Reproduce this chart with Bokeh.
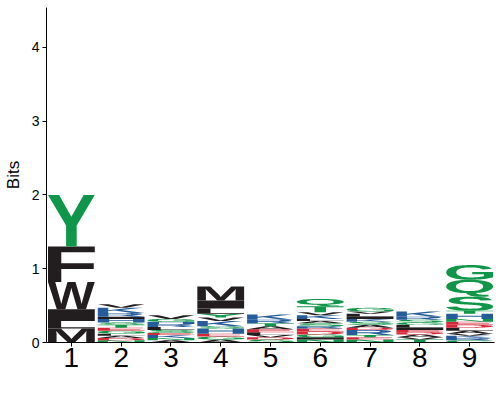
import os
import glob
import struct
import numpy as np
from bokeh.plotting import figure
from bokeh.models import Range1d, FixedTicker, ColumnDataSource
from bokeh.embed import file_html
from bokeh.resources import INLINE

# ---------------- data (letters listed bottom -> top, heights in bits) -------------
positions = [1, 2, 3, 4, 5, 6, 7, 8, 9]
x_tick_labels = ["1", "2", "3", "4", "5", "6", "7", "8", "9"]
y_ticks = [0, 1, 2, 3, 4]

letters_1 = ["M", "L", "I", "W", "F", "Y"]
bits_1 = [0.19, 0.10, 0.16, 0.37, 0.48, 0.70]

letters_2 = ["N", "D", "A", "L", "G", "E", "T", "S", "H", "I", "R", "K", "V"]
bits_2 = [0.03, 0.03, 0.03, 0.03, 0.04, 0.04, 0.04, 0.03, 0.05, 0.03, 0.05, 0.07, 0.05]

letters_3 = ["A", "N", "K", "E", "S", "L", "R", "H", "G", "V"]
bits_3 = [0.03, 0.03, 0.04, 0.03, 0.04, 0.04, 0.04, 0.03, 0.04, 0.05]

letters_4 = ["A", "G", "E", "H", "S", "K", "V", "Y", "L", "I", "M"]
bits_4 = [0.04, 0.04, 0.04, 0.07, 0.03, 0.07, 0.05, 0.05, 0.07, 0.11, 0.19]

letters_5 = ["S", "D", "V", "L", "E", "A", "T", "R", "K"]
bits_5 = [0.04, 0.03, 0.03, 0.04, 0.04, 0.04, 0.04, 0.05, 0.07]

letters_6 = ["N", "I", "G", "D", "E", "R", "S", "A", "L", "K", "V", "T", "Q"]
bits_6 = [0.04, 0.03, 0.04, 0.04, 0.04, 0.03, 0.04, 0.03, 0.03, 0.05, 0.04, 0.08, 0.10]

letters_7 = ["N", "E", "T", "R", "D", "A", "S", "K", "I", "L", "V", "G"]
bits_7 = [0.04, 0.03, 0.03, 0.07, 0.03, 0.04, 0.04, 0.04, 0.03, 0.04, 0.03, 0.05]

letters_8 = ["T", "V", "A", "D", "E", "I", "L", "G", "S", "R", "K"]
bits_8 = [0.04, 0.03, 0.04, 0.03, 0.03, 0.03, 0.04, 0.03, 0.04, 0.04, 0.07]

letters_9 = ["C", "R", "K", "V", "A", "L", "D", "E", "N", "H", "T", "S", "Q", "G"]
bits_9 = [0.03, 0.03, 0.03, 0.03, 0.04, 0.04, 0.04, 0.04, 0.04, 0.07, 0.04, 0.19, 0.23, 0.20]

stack_letters = [letters_1, letters_2, letters_3, letters_4, letters_5,
                 letters_6, letters_7, letters_8, letters_9]
stack_bits = [bits_1, bits_2, bits_3, bits_4, bits_5, bits_6, bits_7, bits_8, bits_9]

# colour scheme (by residue chemistry)
polar_letters = "GSTYCNQ"
basic_letters = "KRH"
acidic_letters = "DE"
hydrophobic_letters = "AVLIPWFM"
polar_color = "#109648"
basic_color = "#255C99"
acidic_color = "#D62839"
hydrophobic_color = "#221E1F"


def letter_color(ch):
    if ch in polar_letters:
        return polar_color
    if ch in basic_letters:
        return basic_color
    if ch in acidic_letters:
        return acidic_color
    return hydrophobic_color


# ---------------- glyph outlines from an installed bold sans font -----------------
def find_font_file():
    names = ["LiberationSans-Bold.ttf", "Arimo-Bold.ttf", "DejaVuSans-Bold.ttf",
             "OpenSans-Bold.ttf", "Lato-Bold.ttf", "Roboto-Bold.ttf"]
    dirs = ["/usr/share/fonts", "/usr/local/share/fonts",
            os.path.expanduser("~/.fonts"), os.path.expanduser("~/.local/share/fonts")]
    for n in names:
        for d in dirs:
            if os.path.isdir(d):
                hits = glob.glob(os.path.join(d, "**", n), recursive=True)
                if hits:
                    return hits[0]
    return None


class TTF:
    def __init__(self, path):
        d = open(path, "rb").read()
        self.d = d
        off = 0
        if d[:4] == b"ttcf":
            off = struct.unpack(">I", d[12:16])[0]
        n = struct.unpack(">H", d[off + 4:off + 6])[0]
        self.t = {}
        for i in range(n):
            r = off + 12 + 16 * i
            tag = d[r:r + 4].decode("latin1")
            toff = struct.unpack(">I", d[r + 8:r + 12])[0]
            self.t[tag] = toff
        head = self.t["head"]
        loc_fmt = struct.unpack(">h", d[head + 50:head + 52])[0]
        mp = self.t["maxp"]
        ng = struct.unpack(">H", d[mp + 4:mp + 6])[0]
        lo = self.t["loca"]
        if loc_fmt == 0:
            self.loca = [v * 2 for v in struct.unpack(">%dH" % (ng + 1), d[lo:lo + 2 * (ng + 1)])]
        else:
            self.loca = list(struct.unpack(">%dI" % (ng + 1), d[lo:lo + 4 * (ng + 1)]))
        c = self.t["cmap"]
        ns = struct.unpack(">H", d[c + 2:c + 4])[0]
        self.cst = None
        for i in range(ns):
            pid, eid, so = struct.unpack(">HHI", d[c + 4 + 8 * i:c + 12 + 8 * i])
            st = c + so
            if struct.unpack(">H", d[st:st + 2])[0] == 4:
                self.cst = st
                if pid == 3:
                    break

    def gid(self, ch):
        d = self.d
        st = self.cst
        code = ord(ch)
        seg2 = struct.unpack(">H", d[st + 6:st + 8])[0]
        seg = seg2 // 2
        ends = struct.unpack(">%dH" % seg, d[st + 14:st + 14 + seg2])
        s0 = st + 16 + seg2
        starts = struct.unpack(">%dH" % seg, d[s0:s0 + seg2])
        deltas = struct.unpack(">%dh" % seg, d[s0 + seg2:s0 + 2 * seg2])
        ro = s0 + 2 * seg2
        roffs = struct.unpack(">%dH" % seg, d[ro:ro + seg2])
        for k in range(seg):
            if ends[k] >= code:
                if starts[k] > code:
                    return 0
                if roffs[k] == 0:
                    return (code + deltas[k]) & 0xFFFF
                a = ro + 2 * k + roffs[k] + 2 * (code - starts[k])
                g = struct.unpack(">H", d[a:a + 2])[0]
                return (g + deltas[k]) & 0xFFFF if g else 0
        return 0

    def contours(self, g):
        d = self.d
        base = self.t["glyf"]
        start = base + self.loca[g]
        end = base + self.loca[g + 1]
        if end <= start:
            return []
        nc = struct.unpack(">h", d[start:start + 2])[0]
        if nc < 0:
            p = start + 10
            out = []
            while True:
                fl, gi = struct.unpack(">HH", d[p:p + 4])
                p += 4
                if fl & 1:
                    a1, a2 = struct.unpack(">hh", d[p:p + 4])
                    p += 4
                else:
                    a1, a2 = struct.unpack(">bb", d[p:p + 2])
                    p += 2
                if fl & 8:
                    p += 2
                elif fl & 0x40:
                    p += 4
                elif fl & 0x80:
                    p += 8
                dx, dy = (a1, a2) if fl & 2 else (0, 0)
                for cc in self.contours(gi):
                    out.append([(x + dx, y + dy, on) for x, y, on in cc])
                if not fl & 0x20:
                    break
            return out
        p = start + 10
        end_pts = struct.unpack(">%dH" % nc, d[p:p + 2 * nc])
        p += 2 * nc
        ilen = struct.unpack(">H", d[p:p + 2])[0]
        p += 2 + ilen
        npts = end_pts[-1] + 1
        flags = []
        while len(flags) < npts:
            f = d[p]
            p += 1
            flags.append(f)
            if f & 8:
                r = d[p]
                p += 1
                flags.extend([f] * r)
        flags = flags[:npts]
        xs = []
        v = 0
        for f in flags:
            if f & 2:
                dd = d[p]
                p += 1
                v += dd if f & 16 else -dd
            elif not f & 16:
                v += struct.unpack(">h", d[p:p + 2])[0]
                p += 2
            xs.append(v)
        ys = []
        v = 0
        for f in flags:
            if f & 4:
                dd = d[p]
                p += 1
                v += dd if f & 32 else -dd
            elif not f & 32:
                v += struct.unpack(">h", d[p:p + 2])[0]
                p += 2
            ys.append(v)
        out = []
        s = 0
        for e in end_pts:
            out.append([(xs[i], ys[i], flags[i] & 1) for i in range(s, e + 1)])
            s = e + 1
        return out


def flatten(contour, steps=8):
    n = len(contour)
    exp = []
    for i in range(n):
        x, y, on = contour[i]
        nx, ny, non = contour[(i + 1) % n]
        exp.append((float(x), float(y), on))
        if not on and not non:
            exp.append(((x + nx) / 2.0, (y + ny) / 2.0, 1))
    k = next(i for i, q in enumerate(exp) if q[2])
    exp = exp[k:] + exp[:k]
    m = len(exp)
    out = [(exp[0][0], exp[0][1])]
    i = 1
    while i <= m:
        q = exp[i % m]
        if q[2]:
            out.append((q[0], q[1]))
            i += 1
        else:
            p0 = out[-1]
            p2 = exp[(i + 1) % m]
            for t in np.linspace(0, 1, steps + 1)[1:]:
                out.append(((1 - t) ** 2 * p0[0] + 2 * (1 - t) * t * q[0] + t ** 2 * p2[0],
                            (1 - t) ** 2 * p0[1] + 2 * (1 - t) * t * q[1] + t ** 2 * p2[1]))
            i += 2
    return np.array(out)


def signed_area(r):
    x, y = r[:, 0], r[:, 1]
    return 0.5 * np.sum(x * np.roll(y, -1) - np.roll(x, -1) * y)


def point_in(px, py, r):
    x, y = r[:, 0], r[:, 1]
    x2, y2 = np.roll(x, -1), np.roll(y, -1)
    cond = ((y > py) != (y2 > py))
    with np.errstate(divide="ignore", invalid="ignore"):
        xi = (x2 - x) * (py - y) / (y2 - y) + x
    return np.count_nonzero(cond & (px < xi)) % 2 == 1


def build_shapes(chars):
    box = [[np.array([[0, 0], [1, 0], [1, 1], [0, 1]], dtype=float)]]
    shapes = {c: box for c in chars}
    path = find_font_file()
    if path is None:
        return shapes
    try:
        font = TTF(path)
        for c in chars:
            rings = [flatten(cc) for cc in font.contours(font.gid(c)) if len(cc) > 2]
            if not rings:
                continue
            areas = [signed_area(r) for r in rings]
            big = max(range(len(rings)), key=lambda i: abs(areas[i]))
            sgn = np.sign(areas[big])
            exts = [i for i in range(len(rings)) if np.sign(areas[i]) == sgn]
            holes = [i for i in range(len(rings)) if np.sign(areas[i]) != sgn]
            polys = {i: [rings[i]] for i in exts}
            for h in holes:
                hx, hy = rings[h][0]
                for e in exts:
                    if point_in(hx, hy, rings[e]):
                        polys[e].append(rings[h])
                        break
            allp = np.vstack(rings)
            mn = allp.min(axis=0)
            span = allp.max(axis=0) - mn
            span[span == 0] = 1
            shapes[c] = [[(r - mn) / span for r in polys[e]] for e in exts]
    except Exception:
        pass
    return shapes


all_chars = sorted(set(ch for st in stack_letters for ch in st))
shapes = build_shapes(all_chars)

letter_width = 0.94
xs_all, ys_all, cols = [], [], []
for pos, lets, bts in zip(positions, stack_letters, stack_bits):
    bottom = 0.0
    for ch, h in zip(lets, bts):
        mpx, mpy = [], []
        for poly in shapes[ch]:
            mpx.append([list(pos - letter_width / 2 + letter_width * r[:, 0]) for r in poly])
            mpy.append([list(bottom + h * r[:, 1]) for r in poly])
        xs_all.append(mpx)
        ys_all.append(mpy)
        cols.append(letter_color(ch))
        bottom += h

src = ColumnDataSource(dict(xs=xs_all, ys=ys_all, color=cols))

# ---------------- figure -----------------
p = figure(width=500, height=400, x_range=Range1d(0.5, 9.5), y_range=Range1d(0, 4.54),
           output_backend="svg", toolbar_location=None,
           min_border_left=45, min_border_right=6, min_border_top=7, min_border_bottom=58)
p.multi_polygons(xs="xs", ys="ys", fill_color="color", line_color=None, source=src)

p.xgrid.visible = False
p.ygrid.visible = False
p.outline_line_color = None
p.background_fill_color = "white"
p.border_fill_color = "white"

p.xaxis.ticker = FixedTicker(ticks=positions)
p.xaxis.major_label_overrides = {pos: lab for pos, lab in zip(positions, x_tick_labels)}
p.yaxis.ticker = FixedTicker(ticks=y_ticks)

for ax in (p.xaxis[0], p.yaxis[0]):
    ax.axis_line_color = "black"
    ax.axis_line_width = 1
    ax.major_tick_line_color = "black"
    ax.major_tick_in = 0
    ax.major_tick_out = 4
    ax.minor_tick_line_color = None
    ax.major_label_text_font = "Liberation Sans"
    ax.major_label_text_color = "black"

p.xaxis.major_label_text_font_size = "28px"
p.xaxis.major_label_standoff = 1
p.yaxis.major_label_text_font_size = "14px"
p.yaxis.major_label_standoff = 3
p.yaxis.axis_label = "Bits"
p.yaxis.axis_label_text_font = "Liberation Sans"
p.yaxis.axis_label_text_font_style = "normal"
p.yaxis.axis_label_text_font_size = "17px"
p.yaxis.axis_label_text_color = "black"
p.yaxis.axis_label_standoff = 6

open("out.html", "w").write(file_html(p, INLINE))
